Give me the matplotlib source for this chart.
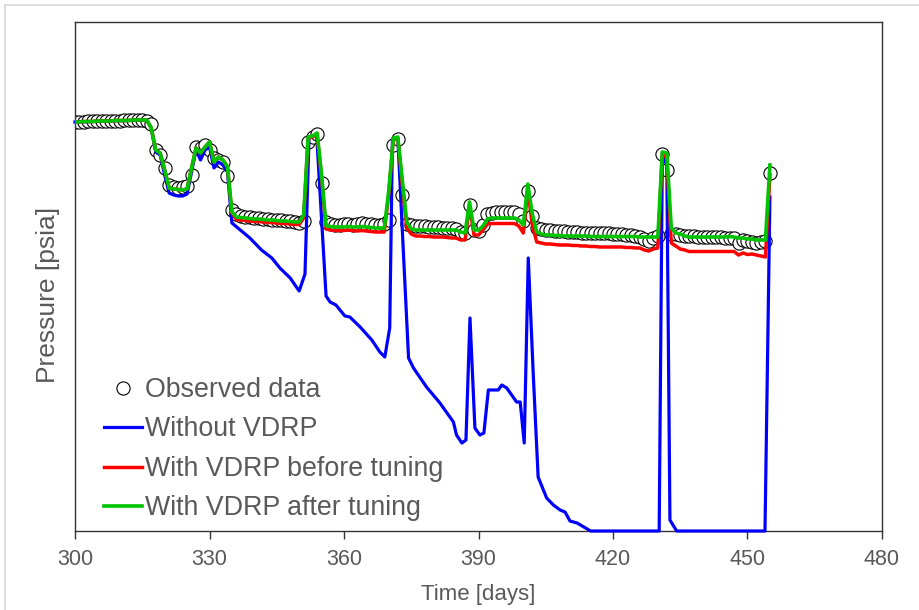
import matplotlib
matplotlib.use("Agg")
import matplotlib.pyplot as plt
from matplotlib.lines import Line2D
import numpy as np

plt.rcParams['font.family'] = ['Liberation Sans', 'DejaVu Sans']

# ---------------- data (arbitrary pressure units) ----------------
days = list(range(300, 456))

observed = [
    409.5, 409.5, 409.5, 410, 410, 410, 410, 410.5, 410.5, 410.5, 410.5, 411, 411, 411, 411, 411, 410,  # 300-316
    407, 381, 376, 363, 346, 344, 343, 344, 345, 356, 384, 383, 386, 381, 373, 371, 369, 355, 321,      # 317-335
    317, 315, 314, 314, 313, 313, 312, 312, 311, 311, 311, 310, 310, 309, 308,                          # 336-350
    310, 389, 394, 397, 348, 309,                                                                       # 351-356
    307, 306, 306, 307, 307, 306, 307, 308, 307, 307, 306, 306, 307,                                    # 357-369
    311, 386, 392, 336, 307,                                                                            # 370-374
    306, 305, 305, 305, 304, 304, 304, 303, 303, 303, 302, 299, 298,                                    # 375-387
    326, 301, 300, 306, 317, 318, 319, 319, 319, 319, 319, 317, 310, 340, 315,                          # 388-402
    303, 302, 301, 301, 300, 300, 300, 299, 299, 299, 298, 298, 298, 298, 298, 298, 298,                # 403-419
    297, 297, 297, 296, 296, 295, 294, 292, 290, 293, 295,                                              # 420-430
    377, 361, 297, 297, 296, 295, 295, 295, 294, 294, 294, 294, 294, 294, 293, 293, 293,                # 431-447
    288, 291, 290, 289, 288, 289, 290, 358,                                                             # 448-455
]

after_tuning = [
    409, 409, 409.5, 409.5, 409.5, 410, 410, 410, 410, 410.5, 410.5, 410.5, 410.5, 411, 411, 411, 411,  # 300-316
    403, 381, 378, 361, 343, 342, 341.5, 341, 342, 363, 383, 378, 384, 389, 369, 374, 371, 364, 319,    # 317-335
    314, 313.5, 313, 312.5, 312, 312, 311.5, 311, 311, 310.5, 310, 310, 309.5, 309, 309,                # 336-350
    316, 394, 395, 398, 356, 305,                                                                       # 351-356
    304.5, 304, 304, 304, 304.5, 304, 304, 304.5, 304, 303.5, 303, 303, 303,                            # 357-369
    341, 393, 394, 352, 309,                                                                            # 370-374
    302, 301, 301, 301, 301, 301, 301, 301, 301, 301, 301, 299, 298,                                    # 375-387
    329, 301, 301, 305, 312, 313, 313, 313, 313, 313, 313, 311, 306, 347, 317,                          # 388-402
    299, 297, 296, 296, 295.5, 295.5, 295, 295, 295, 295, 295, 295, 294.5, 294.5, 294.5,                # 403-417
    294.5, 294.5, 294.5, 294.5, 294.5, 294.5, 294.5, 294.5, 294, 294, 294, 294, 294,                    # 418-430
    379, 378, 303, 298, 297, 295, 294, 294, 294, 294, 294, 294, 294, 294, 294, 294.5, 294,              # 431-447
    293, 293, 292, 292, 291, 291, 291, 366,                                                             # 448-455
]

before_tuning = [
    409, 409, 409.5, 409.5, 409.5, 410, 410, 410, 410, 410.5, 410.5, 410.5, 410.5, 411, 411, 411, 411,  # 300-316
    403, 381, 378, 361, 343, 342, 341.5, 341, 342, 363, 383, 378, 384, 389, 369, 374, 371, 364, 318,    # 317-335
    311.5, 311, 310.5, 310, 309.5, 309.5, 309, 308.5, 308.5, 308, 307.5, 307.5, 307, 306.5, 306.5,      # 336-350
    313, 393, 394, 397, 353, 302,                                                                       # 351-356
    301, 300.5, 300.5, 300.5, 301, 300.5, 300, 300.5, 300, 299.5, 299, 299, 299,                        # 357-369
    338, 392, 393, 346, 303,                                                                            # 370-374
    297, 295, 295, 294.5, 294.5, 294, 294, 294, 293.5, 293, 293, 291, 291,                              # 375-387
    325, 296, 296, 301, 307, 307.5, 307.5, 307.5, 307.5, 307.5, 307.5, 305, 298, 341, 306,              # 388-402
    289, 288, 287, 287, 286.5, 286, 286, 286, 285.5, 285.5, 285, 285, 284.5, 284.5, 284,                # 403-417
    284, 284, 284, 284, 284, 283.5, 283.5, 283, 283, 281, 280, 282, 283,                                # 418-430
    377, 373, 288, 285, 282, 281, 279.5, 279.5, 279.5, 279.5, 279.5, 279.5, 279.5, 279.5, 279.5,        # 431-445
    279.5, 279.5, 276, 278, 276.5, 277, 276, 275, 274, 356,                                             # 446-455
]

without_days = [
    300, 308, 316, 317, 318, 319, 320, 321, 322, 323, 324, 325, 326, 327, 328, 329, 330, 331, 332,
    333, 334, 335, 339, 341.6, 343.9, 345.7, 348, 350, 351.3, 352.2, 353.9, 356, 356.9, 358.2,
    360.2, 361.3, 363.6, 366.2, 368, 369.1, 370.2, 370.8, 372, 374.4, 375.5, 378.4, 381.4, 384.4,
    385.1, 386.3, 387.2, 388.1, 389.2, 390.3, 391.2, 392.2, 394.4, 395.2, 396.3, 397.4, 398.5,
    399.3, 400.2, 401.1, 402.2, 403.3, 405.2, 406.7, 408.2, 409.3, 410.4, 412, 415, 430.3, 431,
    432, 432.7, 434.2, 453.9, 455,
]
without_vals = [
    409, 410, 411, 403, 379, 376, 356, 338, 336, 335, 335, 337, 359, 381, 371, 381, 384, 363, 369,
    366, 359, 308, 293, 281, 273, 263, 253, 240, 257, 394, 396, 235, 229, 226,
    215, 214, 204, 191, 179, 174, 203, 391, 393, 173, 163, 144, 128, 109,
    96, 88, 91, 213, 103, 96, 98, 141, 141, 146, 143, 136, 129,
    129, 88, 273, 158, 54, 33, 26, 21, 19, 10, 8, 0, 0, 376,
    366, 11, 0, 0, 334,
]

labels = ["Observed data", "Without VDRP", "With VDRP before tuning", "With VDRP after tuning"]
xticks = [300, 330, 360, 390, 420, 450, 480]

# ---------------- figure ----------------
W, H = 920, 610
fig = plt.figure(figsize=(W / 100, H / 100), dpi=100)
ax = fig.add_axes([75 / W, 1 - 531 / H, (882 - 75) / W, (531 - 22) / H])

text_color = '#595959'

obs_h, = ax.plot(days, observed, linestyle='none', marker='o', markersize=9.5,
                 markerfacecolor='white', markeredgecolor='black', markeredgewidth=0.8,
                 zorder=2, label=labels[0])
blue_h, = ax.plot(without_days, without_vals, color='#0000ff', lw=2.3, zorder=3,
                  clip_on=False, solid_joinstyle='round', label=labels[1])
red_h, = ax.plot(days, before_tuning, color='#ff0000', lw=2.5, zorder=4,
                 solid_joinstyle='round', label=labels[2])
green_h, = ax.plot(days, after_tuning, color='#00c400', lw=2.6, zorder=5,
                   solid_joinstyle='round', label=labels[3])

ax.set_xlim(300, 480)
ax.set_ylim(0, 509)
ax.set_xticks(xticks)
ax.set_xticklabels([str(t) for t in xticks])
ax.set_yticks([])
ax.tick_params(axis='x', direction='out', length=6, width=1, color='#333333',
               labelsize=15.5, labelcolor=text_color, pad=7)
for s in ax.spines.values():
    s.set_color('#333333')
    s.set_linewidth(1.0)

ax.set_xlabel("Time [days]", fontsize=16, color=text_color, labelpad=10)
ax.set_ylabel("Pressure [psia]", fontsize=19, color=text_color, labelpad=11)
ax.yaxis.label.set_y((531 - 295) / 509)

leg_obs = Line2D([], [], linestyle='none', marker='o', markersize=9.5,
                 markerfacecolor='white', markeredgecolor='black', markeredgewidth=0.8)
leg = ax.legend([leg_obs, blue_h, red_h, green_h], labels, loc='lower left',
                bbox_to_anchor=(0.023, -0.002), frameon=False, fontsize=19.3,
                handlelength=1.42, handletextpad=0.1, labelspacing=0.5,
                borderaxespad=0.0)
for t in leg.get_texts():
    t.set_color(text_color)

# light frame of the original figure (top and left edges)
fig.add_artist(Line2D([5 / W, 1.0], [1 - 5 / H, 1 - 5 / H], transform=fig.transFigure,
                      color='#d9d9d9', lw=1.2))
fig.add_artist(Line2D([5 / W, 5 / W], [0.0, 1 - 5 / H], transform=fig.transFigure,
                      color='#d9d9d9', lw=1.2))

fig.savefig("out.png", dpi=100)
